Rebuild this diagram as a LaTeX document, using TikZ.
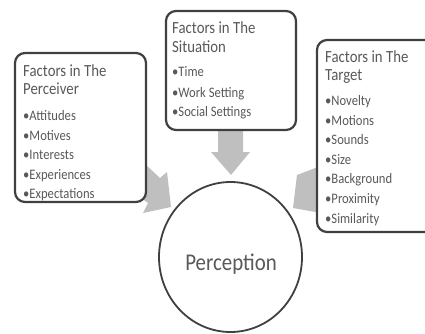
\documentclass[tikz,border=0pt]{standalone}
\usepackage{fontspec}
\setmainfont{Carlito}[FakeStretch=0.87]
\usetikzlibrary{shapes.geometric}
\definecolor{txt}{HTML}{595959}
\definecolor{border}{HTML}{404040}
\definecolor{arrowgray}{HTML}{BFBFBF}
\begin{document}
\begin{tikzpicture}[x=1pt,y=-1pt,
  box/.style={draw=border, line width=2.2pt, rounded corners=10pt, fill=white, inner sep=0pt},
  ttl/.style={anchor=base west, inner sep=0pt, text=txt, font=\fontsize{17}{20}\selectfont},
  itm/.style={anchor=base west, inner sep=0pt, text=txt, font=\fontsize{14.5}{18}\selectfont},
  arr/.style={fill=arrowgray, draw=none}]
\useasboundingbox (0,0) rectangle (425,333);
\clip (0,0) rectangle (425,333);
% block arrows
\fill[arr] (218,125) -- (218,152) -- (211,152) -- (231,175) -- (250,152) -- (243,152) -- (243,125) -- cycle;
\fill[arr] (130,150) -- (160,178) -- (167,172) -- (171,207) -- (143,213) -- (148,203) -- (130,190) -- cycle;
\fill[arr] (297,175) -- (318,167) -- (330,160) -- (330,200) -- (321,213) -- (293,208) -- cycle;
% boxes
\node[box, minimum width=131pt, minimum height=149pt] (perceiver) at (80.5,127.5) {};
\node[box, minimum width=130pt, minimum height=119pt] (situation) at (231,70.5) {};
\node[box, minimum width=128pt, minimum height=192pt] (target) at (381,136) {};
% perception
\node[draw=border, line width=1.8pt, fill=white, ellipse, inner sep=0pt,
  minimum width=143pt, minimum height=150pt] (perception) at (230.5,257) {};
\node[anchor=base, inner sep=0pt, text=txt, font=\fontsize{24}{28}\selectfont] (plabel) at (231,270) {Perception};
% texts: perceiver
\node[ttl] (pt1) at (23,76) {Factors in The};
\node[ttl] (pt2) at (23,94) {Perceiver};
\foreach \t/\y [count=\i] in {Attitudes/120, Motives/140, Interests/159, Experiences/179, Expectations/198}
  \node[itm] (pi\i) at (23,\y) {•\t};
% situation
\node[ttl] (st1) at (172,33) {Factors in The};
\node[ttl] (st2) at (172,52) {Situation};
\foreach \t/\y [count=\i] in {Time/76, Work Setting/97, Social Settings/116}
  \node[itm] (si\i) at (172,\y) {•\t};
% target
\node[ttl] (tt1) at (325,62) {Factors in The};
\node[ttl] (tt2) at (325,80) {Target};
\foreach \t/\y [count=\i] in {Novelty/105, Motions/125, Sounds/144, Size/164, Background/183, Proximity/203, Similarity/223}
  \node[itm] (ti\i) at (325,\y) {•\t};
\end{tikzpicture}
\end{document}
